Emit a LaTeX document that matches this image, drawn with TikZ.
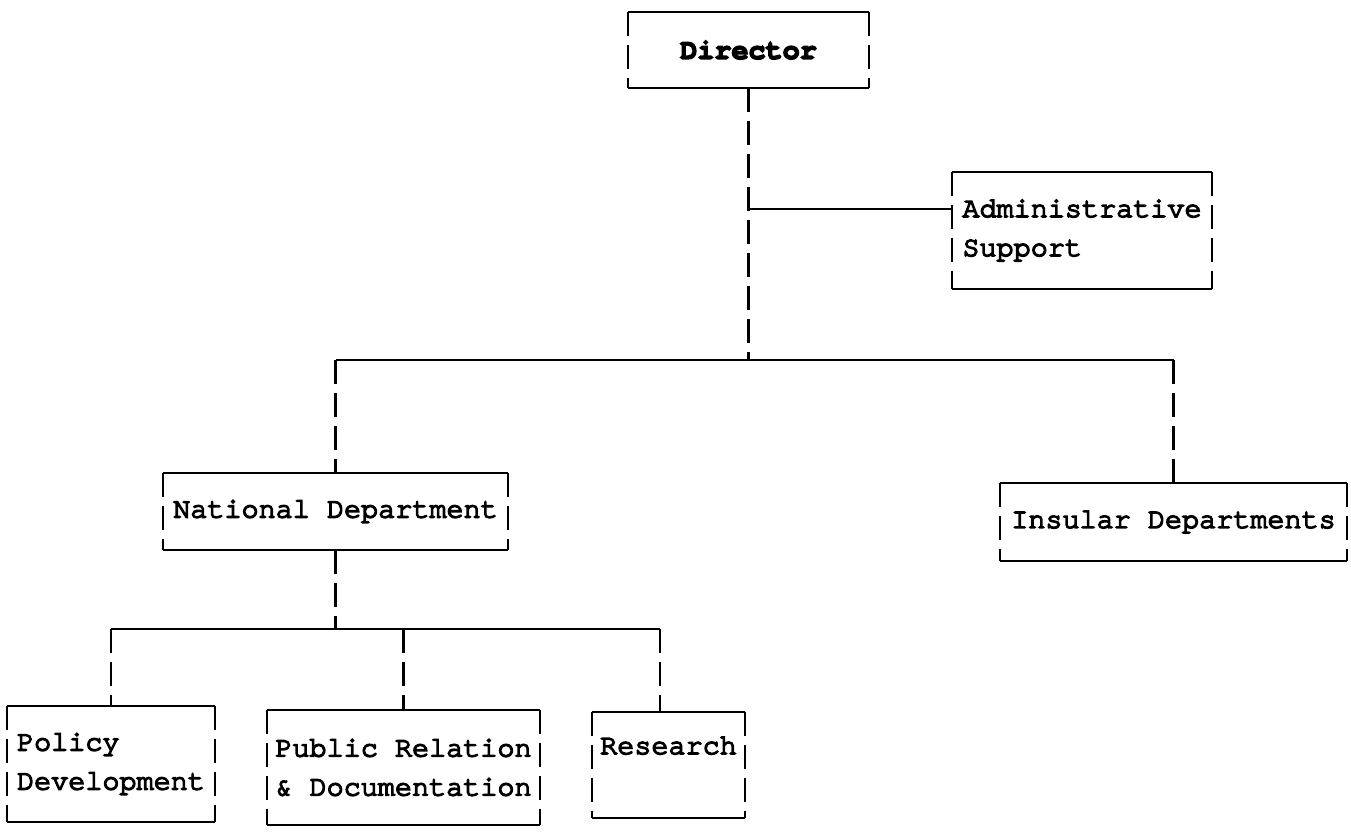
\documentclass[tikz,border=0pt]{standalone}
\usepackage{fontspec}
\newfontfamily\typer[FakeBold=5]{TeX Gyre Cursor}
\usetikzlibrary{calc}

\tikzset{
  unit/.style={font=\typer\fontsize{16.2pt}{22.2pt}\selectfont, align=left, inner sep=0pt},
  typed/.style={line width=1.25pt, dash pattern=on 0.48cm off 0.18cm},
  rule/.style={line width=1.1pt},
}
% frame of a typed box: solid top and bottom, typed bars at the sides
\newcommand{\unitframe}[1]{%
  \draw[rule] (#1.north west) -- (#1.north east);
  \draw[rule] (#1.south west) -- (#1.south east);
  \draw[typed] (#1.north west) -- (#1.south west);
  \draw[typed] (#1.north east) -- (#1.south east);
}

\begin{document}
\begin{tikzpicture}
  \useasboundingbox (0,0) rectangle (27.02,-16.62);
  %
  \node[unit, minimum width=4.82cm, minimum height=1.52cm] (director) at (14.97,-1.0) {\bfseries Director};
  \node[unit, minimum width=5.2cm,  minimum height=2.34cm] (admin)    at (21.64,-4.61) {Administrative\\Support};
  \node[unit, minimum width=6.9cm,  minimum height=1.54cm] (national) at (6.71,-10.23) {National Department};
  \node[unit, minimum width=6.94cm, minimum height=1.56cm] (insular)  at (23.47,-10.44) {Insular Departments};
  \node[unit, minimum width=4.16cm, minimum height=2.32cm] (policy)   at (2.22,-15.28) {Policy\\Development};
  \node[unit, minimum width=5.46cm, minimum height=2.3cm]  (public)   at (8.07,-15.35) {Public Relation\\\& Documentation};
  \node[unit, minimum width=3.06cm, minimum height=2.12cm] (research) at (13.37,-15.3) {Research\\~};
  %
  \unitframe{director}
  \unitframe{admin}
  \unitframe{national}
  \unitframe{insular}
  \unitframe{policy}
  \unitframe{public}
  \unitframe{research}
  %
  \coordinate (mainbus) at (0,-7.2);
  \coordinate (subbus) at (0,-12.58);
  \coordinate (adminport) at ($(admin.north west)!0.32!(admin.south west)$);
  %
  \draw[typed] (director.south) -- (director.south |- mainbus);
  \draw[rule] (director.south |- adminport) -- (adminport);
  %
  \draw[rule] (national.north |- mainbus) -- (insular.north |- mainbus);
  \draw[typed] (national.north |- mainbus) -- (national.north);
  \draw[typed] (insular.north |- mainbus) -- (insular.north);
  %
  \draw[typed] (national.south) -- (national.south |- subbus);
  \draw[rule] (policy.north |- subbus) -- ([xshift=-0.17cm]research.north |- subbus);
  \draw[typed] (policy.north |- subbus) -- (policy.north);
  \draw[typed] (public.north |- subbus) -- (public.north);
  \draw[typed] ([xshift=-0.17cm]research.north |- subbus) -- ([xshift=-0.17cm]research.north);
\end{tikzpicture}
\end{document}
